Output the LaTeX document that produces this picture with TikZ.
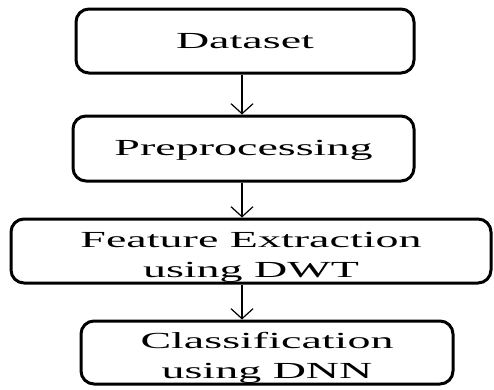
\documentclass[tikz,border=0pt]{standalone}
\usepackage{fontspec}
\setmainfont{Liberation Serif}[FakeStretch=2.0]
\usetikzlibrary{arrows.meta}
\begin{document}
\begin{tikzpicture}[x=1pt,y=-1pt,
  stage/.style={draw=black, line width=3pt, rounded corners=13pt, inner sep=0pt},
  caption/.style={align=center, inner sep=0pt, font=\fontsize{23}{30}\selectfont},
  flow/.style={draw=black, line width=1.2pt, -{Straight Barb[length=10pt,width=22pt]}}]
\useasboundingbox (0,0) rectangle (494,389);
% processing stages, each with its caption
\node[stage, minimum width=338pt, minimum height=64pt,
  label={[caption, yshift=0pt]center:Dataset}] (data) at (245,41) {};
\node[stage, minimum width=341pt, minimum height=65pt,
  label={[caption, yshift=-1.5pt]center:Preprocessing}] (prep) at (243.5,148.5) {};
\node[stage, minimum width=480pt, minimum height=64pt,
  label={[caption, yshift=-6pt]center:{Feature Extraction\\using DWT}}] (feat) at (251,251) {};
\node[stage, minimum width=372pt, minimum height=63pt,
  label={[caption, yshift=-5pt]center:{Classification\\using DNN}}] (clas) at (267,352.5) {};
% vertical axis of the connectors
\coordinate (ax) at (242,0);
\draw[flow] (data.south -| ax) -- (prep.north -| ax);
\draw[flow] (prep.south -| ax) -- (feat.north -| ax);
\draw[flow] (feat.south -| ax) -- (clas.north -| ax);
\end{tikzpicture}
\end{document}
